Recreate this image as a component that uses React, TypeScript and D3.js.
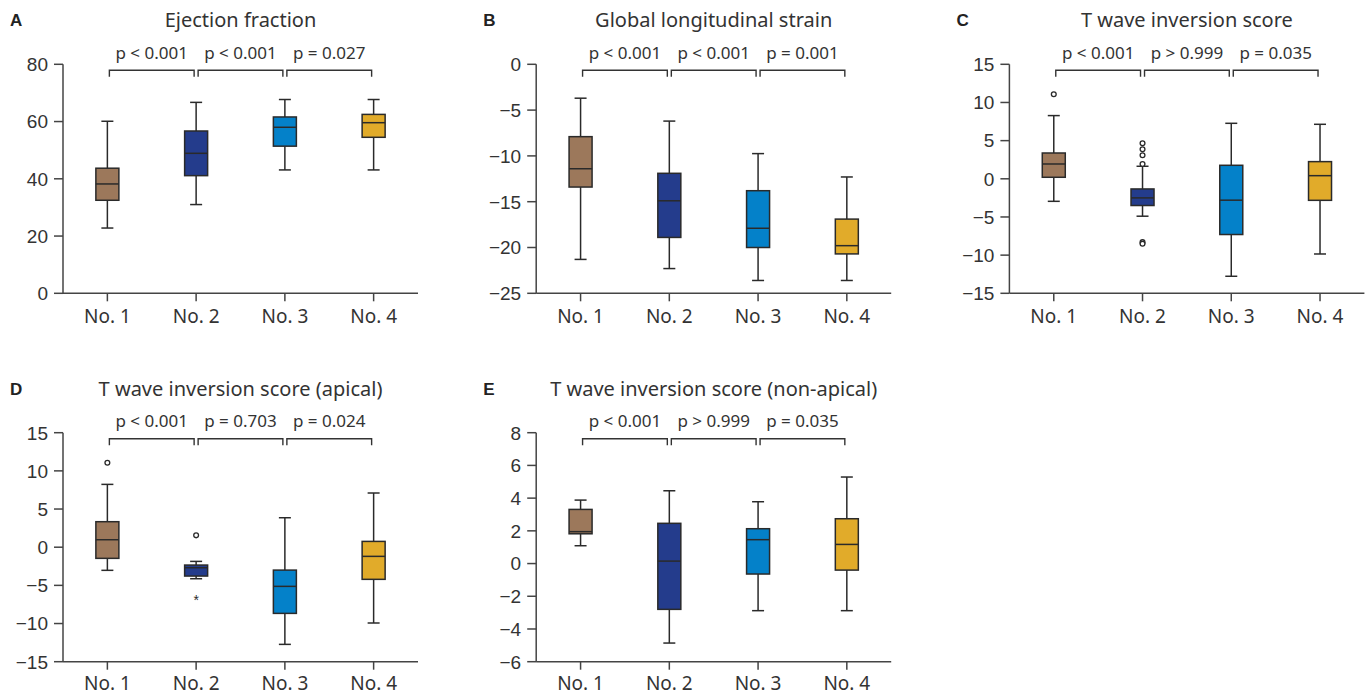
import React from 'react';
import * as d3 from 'd3';

// categories & colors
const groups = ['No. 1', 'No. 2', 'No. 3', 'No. 4'];
const boxColors = ['#9c785b', '#243c8c', '#0481c9', '#e1ab2a'];

// box stats per group: [lower whisker, q1, median, q3, upper whisker]
const efBoxes = [
  [22.8, 32.5, 38.2, 43.7, 60.1],
  [31.0, 41.1, 48.9, 56.7, 66.7],
  [43.1, 51.4, 58.0, 61.6, 67.7],
  [43.1, 54.5, 59.6, 62.5, 67.7],
];
const glsBoxes = [
  [-21.3, -13.4, -11.4, -7.9, -3.7],
  [-22.3, -18.9, -14.9, -11.9, -6.2],
  [-23.6, -20.0, -17.9, -13.8, -9.75],
  [-23.6, -20.7, -19.8, -16.9, -12.3],
];
const twiBoxes = [
  [-2.95, 0.2, 1.94, 3.38, 8.28],
  [-4.9, -3.5, -2.5, -1.33, 1.64],
  [-12.77, -7.3, -2.8, 1.77, 7.27],
  [-9.85, -2.82, 0.41, 2.25, 7.14],
];
const apicalBoxes = [
  [-3.03, -1.46, 0.98, 3.34, 8.23],
  [-4.13, -3.78, -2.69, -2.34, -1.86],
  [-12.73, -8.67, -5.13, -3.0, 3.86],
  [-9.93, -4.21, -1.2, 0.76, 7.1],
];
const nonApicalBoxes = [
  [1.09, 1.82, 1.95, 3.31, 3.88],
  [-4.86, -2.8, 0.15, 2.46, 4.45],
  [-2.88, -0.64, 1.46, 2.13, 3.78],
  [-2.88, -0.4, 1.17, 2.74, 5.29],
];

// outliers (circles) and extremes (asterisks) per group
const twiOutliers = [[11.07], [4.65, 3.87, 3.08, 1.94, -8.3, -8.5], [], []];
const apicalOutliers = [[11.07], [1.55], [], []];
const apicalExtremes = [[], [-6.48], [], []];
const noOutliers = [[], [], [], []];

// y ticks
const efTicks = [0, 20, 40, 60, 80];
const glsTicks = [-25, -20, -15, -10, -5, 0];
const twiTicks = [-15, -10, -5, 0, 5, 10, 15];
const nonApicalTicks = [-6, -4, -2, 0, 2, 4, 6, 8];

// p values between adjacent groups
const efP = ['p < 0.001', 'p < 0.001', 'p = 0.027'];
const glsP = ['p < 0.001', 'p < 0.001', 'p = 0.001'];
const twiP = ['p < 0.001', 'p > 0.999', 'p = 0.035'];
const apicalP = ['p < 0.001', 'p = 0.703', 'p = 0.024'];
const nonApicalP = ['p < 0.001', 'p > 0.999', 'p = 0.035'];

const labelFont = '"Noto Sans", sans-serif';
const tickFont = '"Liberation Sans", Arial, sans-serif';
const ink = '#333';

const Panel = ({ letter, title, boxes, ticks, pLabels, outliers, extremes, col, row }: any) => {
  const left = 63 + col * 473.2;
  const right = left + 355;
  const top = row === 0 ? 64.3 : 432.7;
  const bottom = top + 229;

  const x = d3.scalePoint().domain(groups).range([left, right]).padding(0.5);
  const y = d3.scaleLinear().domain([ticks[0], ticks[ticks.length - 1]]).range([bottom, top]);
  const fmt = d3.format('d');
  const boxW = 23;
  const capW = 12;
  // bottom row sits right at the page edge
  const catOffset = row === 0 ? 30 : 28;

  return (
    <g>
      <text x={left - 53} y={top - 38} fontFamily={tickFont} fontWeight="bold" fontSize={17} fill="#222">{letter}</text>
      <text x={(left + right) / 2} y={top - 37} textAnchor="middle" fontFamily={labelFont} fontSize={20} fill={ink}>{title}</text>

      {/* p value brackets */}
      {pLabels.map((p: string, i: number) => {
        const x0 = (x(groups[i]) as number) + 2;
        const x1 = (x(groups[i + 1]) as number) - 2;
        return (
          <g key={p + i}>
            <path d={`M${x0},${top + 12.5}V${top + 6}H${x1}V${top + 12.5}`} fill="none" stroke={ink} strokeWidth={1.4} />
            <text x={(x0 + x1) / 2} y={top - 5.5} textAnchor="middle" fontFamily={labelFont} fontSize={17} fill={ink}>{p}</text>
          </g>
        );
      })}

      {/* axes */}
      <line x1={left} x2={left} y1={top} y2={bottom} stroke="#444" strokeWidth={1.5} />
      <line x1={left} x2={right} y1={bottom} y2={bottom} stroke="#444" strokeWidth={1.5} />
      {ticks.map((t: number) => (
        <g key={t}>
          <line x1={left - 9} x2={left} y1={y(t)} y2={y(t)} stroke="#444" strokeWidth={1.5} />
          <text x={left - 15} y={y(t)} dy="0.36em" textAnchor="end" fontFamily={tickFont} fontSize={19} fill={ink}>{fmt(t)}</text>
        </g>
      ))}
      {groups.map((g) => (
        <g key={g}>
          <line x1={x(g)} x2={x(g)} y1={bottom} y2={bottom + 8} stroke="#444" strokeWidth={1.5} />
          <text x={x(g)} y={bottom + catOffset} textAnchor="middle" fontFamily={labelFont} fontSize={19} fill={ink}>{g}</text>
        </g>
      ))}

      {/* boxes */}
      {boxes.map((b: number[], i: number) => {
        const cx = x(groups[i]) as number;
        const [lo, q1, med, q3, hi] = b;
        return (
          <g key={i}>
            <line x1={cx} x2={cx} y1={y(hi)} y2={y(q3)} stroke="#2a2a2a" strokeWidth={1.5} />
            <line x1={cx} x2={cx} y1={y(q1)} y2={y(lo)} stroke="#2a2a2a" strokeWidth={1.5} />
            <line x1={cx - capW / 2} x2={cx + capW / 2} y1={y(hi)} y2={y(hi)} stroke="#2a2a2a" strokeWidth={1.5} />
            <line x1={cx - capW / 2} x2={cx + capW / 2} y1={y(lo)} y2={y(lo)} stroke="#2a2a2a" strokeWidth={1.5} />
            <rect x={cx - boxW / 2} y={y(q3)} width={boxW} height={y(q1) - y(q3)} fill={boxColors[i]} stroke="#2a2a2a" strokeWidth={1.5} />
            <line x1={cx - boxW / 2} x2={cx + boxW / 2} y1={y(med)} y2={y(med)} stroke="#2a2a2a" strokeWidth={1.5} />
            {outliers[i].map((o: number, j: number) => (
              <circle key={j} cx={cx} cy={y(o)} r={2.4} fill="#fff" stroke="#2a2a2a" strokeWidth={1.3} />
            ))}
            {extremes[i].map((o: number, j: number) => (
              <text key={j} x={cx} y={y(o)} dy="0.6em" textAnchor="middle" fontFamily={tickFont} fontSize={14} fill="#2a2a2a">*</text>
            ))}
          </g>
        );
      })}
    </g>
  );
};

const App = () => {
  return (
    <svg width={1371} height={696} style={{ position: 'absolute', left: 0, top: 0, display: 'block', background: '#fff' }}>
      <Panel letter="A" title="Ejection fraction" boxes={efBoxes} ticks={efTicks} pLabels={efP} outliers={noOutliers} extremes={noOutliers} col={0} row={0} />
      <Panel letter="B" title="Global longitudinal strain" boxes={glsBoxes} ticks={glsTicks} pLabels={glsP} outliers={noOutliers} extremes={noOutliers} col={1} row={0} />
      <Panel letter="C" title="T wave inversion score" boxes={twiBoxes} ticks={twiTicks} pLabels={twiP} outliers={twiOutliers} extremes={noOutliers} col={2} row={0} />
      <Panel letter="D" title="T wave inversion score (apical)" boxes={apicalBoxes} ticks={twiTicks} pLabels={apicalP} outliers={apicalOutliers} extremes={apicalExtremes} col={0} row={1} />
      <Panel letter="E" title="T wave inversion score (non-apical)" boxes={nonApicalBoxes} ticks={nonApicalTicks} pLabels={nonApicalP} outliers={noOutliers} extremes={noOutliers} col={1} row={1} />
    </svg>
  );
};

export default App;
